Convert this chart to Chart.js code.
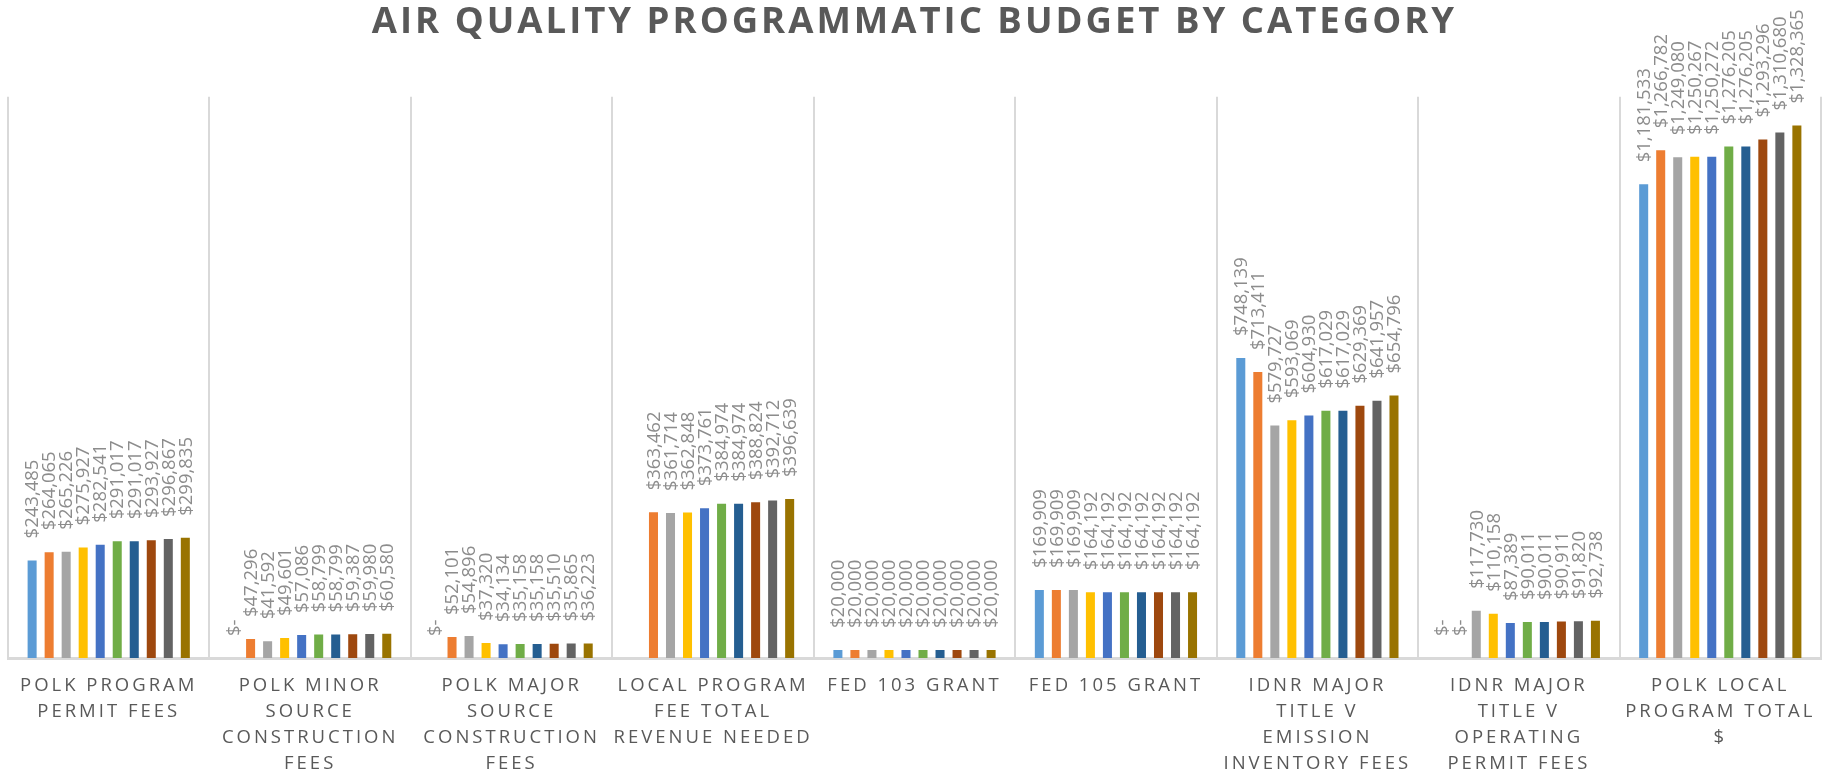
<!DOCTYPE html>
<html>
<head>
<meta charset="utf-8">
<title>Air Quality Programmatic Budget by Category</title>
<script src="https://cdn.jsdelivr.net/npm/chart.js@4.4.1/dist/chart.umd.min.js"></script>
<style>
  html, body { margin: 0; padding: 0; background: #ffffff; }
  #wrap { width: 1823px; height: 773px; position: relative; }
</style>
</head>
<body>
<div id="wrap"><canvas id="budgetChart"></canvas></div>
<script>
// categories (x axis), one line per array entry
const categories = [
    ['POLK PROGRAM', 'PERMIT FEES'],
    ['POLK MINOR', 'SOURCE', 'CONSTRUCTION', 'FEES'],
    ['POLK MAJOR', 'SOURCE', 'CONSTRUCTION', 'FEES'],
    ['LOCAL PROGRAM', 'FEE TOTAL', 'REVENUE NEEDED'],
    ['FED 103 GRANT'],
    ['FED 105 GRANT'],
    ['IDNR MAJOR', 'TITLE V', 'EMISSION', 'INVENTORY FEES'],
    ['IDNR MAJOR', 'TITLE V', 'OPERATING', 'PERMIT FEES'],
    ['POLK LOCAL', 'PROGRAM TOTAL', '$']
];

// values per category, one per series (null = no bar / no label)
const polkProgramPermit = [243485, 264065, 265226, 275927, 282541, 291017, 291017, 293927, 296867, 299835];
const polkMinorConstruction = [0, 47296, 41592, 49601, 57086, 58799, 58799, 59387, 59980, 60580];
const polkMajorConstruction = [0, 52101, 54896, 37320, 34134, 35158, 35158, 35510, 35865, 36223];
const localFeeRevenue = [null, 363462, 361714, 362848, 373761, 384974, 384974, 388824, 392712, 396639];
const fed103Grant = [20000, 20000, 20000, 20000, 20000, 20000, 20000, 20000, 20000, 20000];
const fed105Grant = [169909, 169909, 169909, 164192, 164192, 164192, 164192, 164192, 164192, 164192];
const idnrEmissionFees = [748139, 713411, 579727, 593069, 604930, 617029, 617029, 629369, 641957, 654796];
const idnrOperatingFees = [0, 0, 117730, 110158, 87389, 90011, 90011, 90911, 91820, 92738];
const polkLocalTotal = [1181533, 1266782, 1249080, 1250267, 1250272, 1276205, 1276205, 1293296, 1310680, 1328365];

const seriesNames = ['Series 1', 'Series 2', 'Series 3', 'Series 4', 'Series 5',
                     'Series 6', 'Series 7', 'Series 8', 'Series 9', 'Series 10'];
const seriesColors = ['#5B9BD5', '#ED7D31', '#A5A5A5', '#FFC000', '#4472C4',
                      '#70AD47', '#255E91', '#9E480E', '#636363', '#997300'];

const byCategory = [polkProgramPermit, polkMinorConstruction, polkMajorConstruction, localFeeRevenue,
                    fed103Grant, fed105Grant, idnrEmissionFees, idnrOperatingFees, polkLocalTotal];

// turn the per-category rows into one dataset per series
const datasets = seriesNames.map((name, s) => ({
    label: name,
    data: byCategory.map(row => row[s]),
    backgroundColor: seriesColors[s],
    borderWidth: 0,
    categoryPercentage: 0.845,
    barPercentage: 0.53
}));

function money(v) {
    if (v === 0) return '$-';
    return '$' + v.toLocaleString('en-US');
}

// rotated value labels above each bar
const barLabels = {
    id: 'barLabels',
    afterDatasetsDraw(chart) {
        const ctx = chart.ctx;
        ctx.save();
        ctx.letterSpacing = '0px';
        ctx.font = "18.5px 'Open Sans', sans-serif";
        ctx.fillStyle = '#8C8C8C';
        ctx.textAlign = 'left';
        ctx.textBaseline = 'middle';
        chart.data.datasets.forEach((ds, i) => {
            const meta = chart.getDatasetMeta(i);
            meta.data.forEach((bar, j) => {
                const v = ds.data[j];
                if (v === null || v === undefined) return;
                ctx.save();
                ctx.translate(bar.x + 1, bar.y - 22);
                ctx.rotate(-Math.PI / 2);
                ctx.fillText(money(v), 0, 0);
                ctx.restore();
            });
        });
        ctx.restore();
    }
};

// spaced-out lettering for title and category labels
const spacedText = {
    id: 'spacedText',
    beforeDraw(chart) {
        chart.ctx.letterSpacing = '3px';
    }
};

const ctx = document.getElementById('budgetChart').getContext('2d');
new Chart(ctx, {
    type: 'bar',
    data: {
        labels: categories,
        datasets: datasets
    },
    plugins: [spacedText, barLabels],
    options: {
        responsive: true,
        maintainAspectRatio: false,
        animation: false,
        layout: { padding: { left: 8, right: 2, top: 0, bottom: 0 } },
        plugins: {
            legend: { display: false },
            tooltip: { enabled: false },
            title: {
                display: true,
                text: 'AIR QUALITY PROGRAMMATIC BUDGET BY CATEGORY',
                color: '#595959',
                font: { family: "'Open Sans', sans-serif", size: 36.5, weight: 'bold' },
                padding: { top: 1, bottom: 52 }
            }
        },
        scales: {
            x: {
                grid: { color: '#D9D9D9', lineWidth: 2, drawTicks: false, offset: true },
                border: { color: '#D9D9D9', width: 3 },
                ticks: {
                    color: '#595959',
                    font: { family: "'Open Sans', sans-serif", size: 18.5, lineHeight: 1.4 },
                    padding: 15,
                    maxRotation: 0,
                    minRotation: 0,
                    autoSkip: false
                },
                afterFit(scale) { scale.height = 115; }
            },
            y: {
                display: false,
                min: 0,
                max: 1400000
            }
        }
    }
});
</script>
</body>
</html>
